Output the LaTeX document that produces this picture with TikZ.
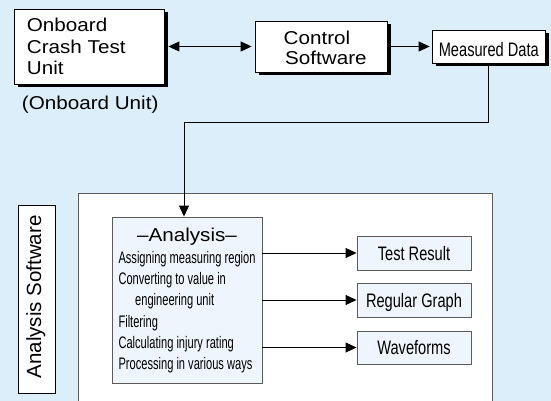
\documentclass[tikz,border=0pt]{standalone}
\usepackage{fontspec}
\setmainfont{Liberation Sans}
\newfontfamily\hfont[FakeStretch=1.11]{Liberation Sans}
\newfontfamily\nfont[FakeStretch=0.75]{Liberation Sans}
\newfontfamily\afont[FakeStretch=0.665]{Liberation Sans}
\usetikzlibrary{arrows.meta,shadows}
\definecolor{bgblue}{RGB}{221,238,251}
\definecolor{paleblue}{RGB}{238,245,253}
\definecolor{edgegray}{RGB}{90,90,90}
\tikzset{
  sbox/.style={draw=black, line width=0.8pt, fill=white, inner sep=0pt,
    general shadow={fill=black, shadow xshift=3.5pt, shadow yshift=-3.5pt}},
  obox/.style={draw=edgegray, line width=0.9pt, fill=paleblue, inner sep=0pt},
  htext/.style={font=\hfont\fontsize{18.6}{22}\selectfont, inner sep=0pt, anchor=base west},
  ntext/.style={font=\nfont\fontsize{19.5}{22}\selectfont, inner sep=0pt},
  atext/.style={font=\afont\fontsize{16.7}{20}\selectfont, inner sep=0pt, anchor=base west},
  conn/.style={line width=0.9pt, black},
  arr/.style={conn, -{Triangle[length=11pt,width=10pt]}},
  arrd/.style={conn, {Triangle[length=11pt,width=10pt]}-{Triangle[length=11pt,width=10pt]}},
}
\begin{document}
\begin{tikzpicture}[x=1pt,y=-1pt]
\useasboundingbox (0,0) rectangle (551,401);
\fill[bgblue] (0,0) rectangle (551,401);
\clip (0,0) rectangle (551,401);

% top row
\node[sbox, minimum width=150pt, minimum height=75pt] (onb) at (89,46.5) {};
\node[htext] (onb1) at (26.7,31.7) {Onboard};
\node[htext] (onb2) at (26.7,53.3) {Crash Test};
\node[htext] (onb3) at (26.7,74.5) {Unit};
\node[htext] (onbu) at (21.7,110) {(Onboard Unit)};

\node[sbox, minimum width=132pt, minimum height=51pt] (cs) at (321,46.5) {};
\node[htext] (cs1) at (283.5,44.3) {Control};
\node[htext] (cs2) at (285,65) {Software};

\node[sbox, minimum width=113pt, minimum height=33pt] (md) at (488.5,46.5) {};
\node[ntext, anchor=base] (mdt) at (488.8,57) {Measured Data};

\draw[arrd, shorten <=4pt, shorten >=3pt] (onb.east) -- (cs.west);
\draw[arr, shorten <=3.5pt, shorten >=2pt] (cs.east) -- (md.west);

% analysis software frame
\draw[edgegray, line width=0.9pt, fill=white] (78,193) rectangle (492,420);
\node[draw=black, line width=0.8pt, fill=white, minimum width=37pt, minimum height=188pt, inner sep=0pt] (as) at (36.5,299) {};
\node[rotate=90, font=\fontsize{20.5}{24}\selectfont, inner sep=0pt] (ast) at (35.8,297) {Analysis Software};

\node[obox, minimum width=150pt, minimum height=166pt] (an) at (187,300) {};
\node[htext, anchor=base] (ant) at (187,241.7) {–Analysis–};
\node[atext] (a1) at (118.3,263) {Assigning measuring region};
\node[atext] (a2) at (118.3,284.5) {Converting to value in};
\node[atext] (a3) at (135,305.5) {engineering unit};
\node[atext] (a4) at (118.3,327) {Filtering};
\node[atext] (a5) at (118.3,348) {Calculating injury rating};
\node[atext] (a6) at (118.3,369.5) {Processing in various ways};

\coordinate (bend) at (184,122);
\draw[arr] (md.south) |- (bend) -- (bend |- an.north);

% outputs
\node[obox, minimum width=114pt, minimum height=34pt] (tr) at (414,253) {};
\node[ntext, anchor=base] (trt) at (414,260) {Test Result};
\node[obox, minimum width=114pt, minimum height=34pt] (rg) at (414,300) {};
\node[ntext, anchor=base] (rgt) at (414,307) {Regular Graph};
\node[obox, minimum width=114pt, minimum height=33pt] (wf) at (414,347.5) {};
\node[ntext, anchor=base] (wft) at (414,354.5) {Waveforms};

\draw[arr] (an.east |- tr.west) -- (tr.west);
\draw[arr] (an.east |- rg.west) -- (rg.west);
\draw[arr] (an.east |- wf.west) -- (wf.west);
\end{tikzpicture}
\end{document}
